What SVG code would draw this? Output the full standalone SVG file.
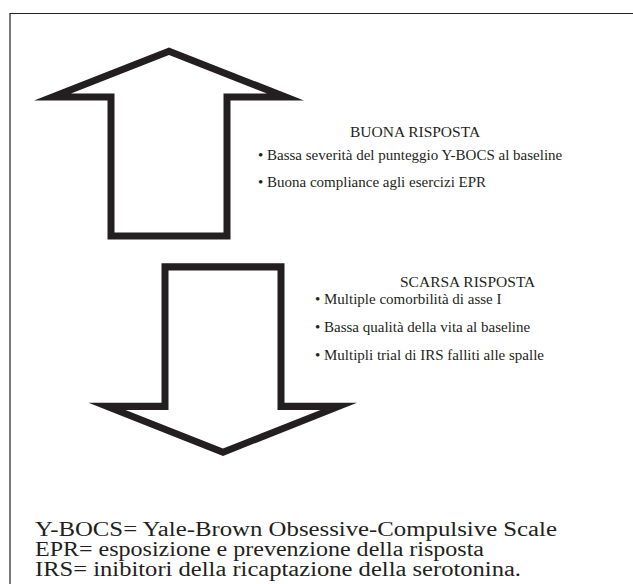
<svg xmlns="http://www.w3.org/2000/svg" width="633" height="584" viewBox="0 0 633 584">
<style>
.frame{fill:none;stroke:#231f20;stroke-width:1.2}
.arrow{fill:#231f20;fill-rule:evenodd}
.t{font-family:"Liberation Serif","Times New Roman",serif;fill:#231f20}
.s{font-size:15px}
.h{font-size:15.5px}
.f{font-size:20.5px}
</style>
<rect width="633" height="584" fill="#fff"/>
<path class="frame" d="M10,584 V13.5 H633"/>
<g id="connectors">
<path id="up-arrow" class="arrow" d="M169,47.5 L304,100.5 L230.5,100.5 L230.5,239.5 L107.5,239.5 L107.5,100.5 L34,100.5 Z M169,55 L71,93.5 L114.5,93.5 L114.5,232.5 L223.5,232.5 L223.5,93.5 L267,93.5 Z"/>
<path id="down-arrow" class="arrow" d="M223,456 L357,402.7 L284.5,402.7 L284.5,263.3 L161.5,263.3 L161.5,402.7 L88.5,402.7 Z M223,448.5 L320.5,410 L277.5,410 L277.5,270.5 L168.5,270.5 L168.5,410 L125.5,410 Z"/>
</g>
<g id="buona">
<text class="t h" x="350" y="137">BUONA RISPOSTA</text>
<text class="t s" x="258" y="160">• Bassa severità del punteggio Y-BOCS al baseline</text>
<text class="t s" x="258" y="187">• Buona compliance agli esercizi EPR</text>
</g>
<g id="scarsa">
<text class="t h" x="400" y="287">SCARSA RISPOSTA</text>
<text class="t s" x="315" y="304">• Multiple comorbilità di asse I</text>
<text class="t s" x="315" y="332">• Bassa qualità della vita al baseline</text>
<text class="t s" x="315" y="360">• Multipli trial di IRS falliti alle spalle</text>
</g>
<g id="legend">
<text class="t f" x="35" y="536" textLength="522" lengthAdjust="spacingAndGlyphs">Y-BOCS= Yale-Brown Obsessive-Compulsive Scale</text>
<text class="t f" x="35" y="556" textLength="449" lengthAdjust="spacingAndGlyphs">EPR= esposizione e prevenzione della risposta</text>
<text class="t f" x="35" y="576" textLength="486" lengthAdjust="spacingAndGlyphs">IRS= inibitori della ricaptazione della serotonina.</text>
</g>
</svg>
